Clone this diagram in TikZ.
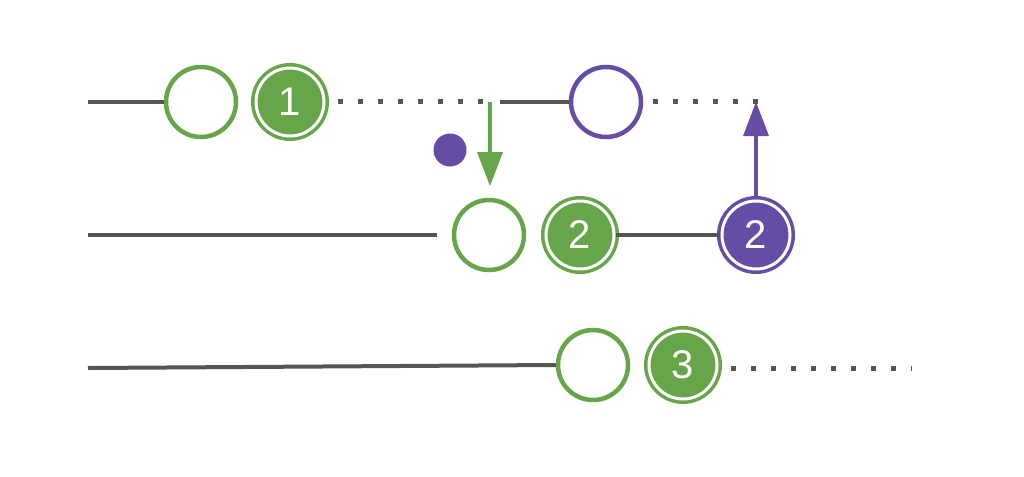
\documentclass[tikz,border=0pt]{standalone}
\usepackage{fontspec}
\setmainfont{Liberation Sans}
\usetikzlibrary{arrows.meta}
\definecolor{rxgreen}{HTML}{67A54B}
\definecolor{rxpurple}{HTML}{654DA6}
\definecolor{rxgray}{HTML}{555555}
\tikzset{
  line/.style={draw=rxgray,line width=4pt},
  dots/.style={draw=rxgray,line width=5pt,dash pattern=on 5pt off 15pt},
  open/.style={circle,draw=#1,line width=4.5pt,fill=white,minimum size=70pt,inner sep=0pt},
  done/.style={circle,fill=#1,draw=#1,double=white,double distance=3pt,line width=3.5pt,
    minimum size=68pt,inner sep=0pt,text=white,font=\fontsize{40}{40}\selectfont},
  arr/.style={draw=#1,line width=4pt,-{Triangle[length=34pt,width=26pt,line width=0pt]}}
}
\begin{document}
\begin{tikzpicture}[x=1pt,y=-1pt]
\useasboundingbox (0,0) rectangle (1024,476);
% first row
\coordinate (a0) at (88,102);
\node [open=rxgreen] (a) at (201,102) {};
\node [done=rxgreen] (a1) at (290,102) {1};
\coordinate (a2) at (490,102);
\coordinate (a3) at (500,102);
\node [open=rxpurple] (b) at (606,102) {};
\coordinate (b1) at (758,102);
\draw [line] (a0) -- (a.west);
\draw [dots] (a1.east) ++(12,0) -- (a2);
\draw [line] (a3) -- (b.west);
\draw [dots] (b.east) ++(10,0) -- (b1);
\node [circle,fill=rxpurple,minimum size=33pt,inner sep=0pt] (p) at (450,150) {};
% second row
\coordinate (c0) at (88,235);
\coordinate (c1) at (437,235);
\node [open=rxgreen] (c) at (489,235) {};
\node [done=rxgreen] (c2) at (580,235) {2};
\node [done=rxpurple] (d2) at (756,235) {2};
\draw [line] (c0) -- (c1);
\draw [line] (c2.east) -- (d2.west);
\draw [arr=rxgreen] (a2) -- (490,186);
\draw [arr=rxpurple] (d2.north) -- (756,102);
% third row
\coordinate (e0) at (88,368);
\node [open=rxgreen] (e) at (593,365) {};
\node [done=rxgreen] (e3) at (683,365) {3};
\coordinate (e4) at (912,368);
\draw [line] (e0) -- (e.west);
\draw [dots] (e3.east) ++(12,3) -- (e4);
\end{tikzpicture}
\end{document}
